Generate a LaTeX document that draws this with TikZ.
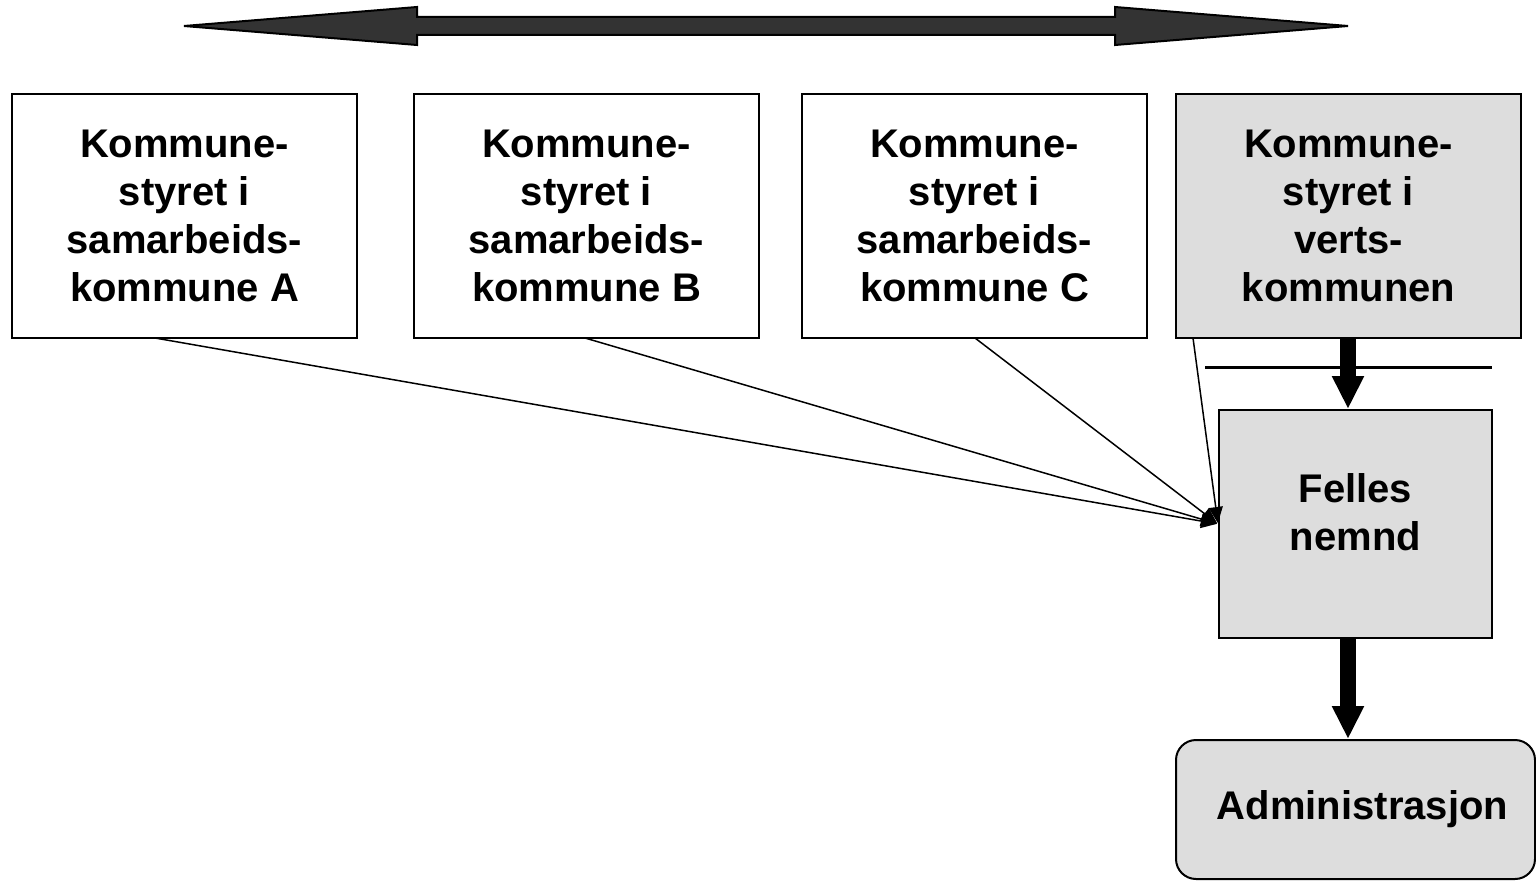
\documentclass[tikz,border=0pt]{standalone}
\usepackage{fontspec}
\setmainfont{Liberation Sans}
\usetikzlibrary{arrows.meta,positioning,calc}
\definecolor{boxgray}{HTML}{DDDDDD}
\definecolor{arrowgray}{HTML}{333333}
\begin{document}
\begin{tikzpicture}[x=0.5pt,y=-0.5pt,
  kbox/.style={draw=black,line width=1pt,minimum width=172.5pt,minimum height=122pt,inner sep=0pt,align=center,
    font=\fontsize{20pt}{24pt}\selectfont\bfseries},
  graybox/.style={fill=boxgray},
  thinarrow/.style={line width=0.75pt,-{Triangle[length=8pt,width=7pt]},shorten >=0.5pt},
  thickarrow/.style={line width=8pt,-{Triangle[length=16.5pt,width=15pt]}},
]
\useasboundingbox (0,0) rectangle (1536,882);
% top double arrow
\draw[fill=arrowgray,line width=1pt,line join=miter]
  (184,26) -- (417,7) -- (417,17) -- (1115,17) -- (1115,7) -- (1348,26)
  -- (1115,45) -- (1115,35) -- (417,35) -- (417,45) -- cycle;
% boxes
\node[kbox] (A) at (184.5,216) {Kommune-\\styret i\\samarbeids-\\kommune A};
\node[kbox] (B) at (586.5,216) {Kommune-\\styret i\\samarbeids-\\kommune B};
\node[kbox] (C) at (974.5,216) {Kommune-\\styret i\\samarbeids-\\kommune C};
\node[kbox,graybox] (V) at (1348.5,216) {Kommune-\\styret i\\verts-\\kommunen};
\node[kbox,graybox,minimum width=136.5pt,minimum height=114pt] (F) at (1355.5,524)
  {\raisebox{-1.5pt}[0pt][0pt]{\begin{tabular}{@{}c@{}}Felles\\nemnd\end{tabular}}};
\node[kbox,graybox,rounded corners=10pt,minimum width=179.5pt,minimum height=69.5pt] (Ad) at (1355.5,809.5)
  {\hspace*{7pt}\raisebox{2pt}{Administrasjon}};
% horizontal line
\coordinate (hl1) at (1205,367);
\coordinate (hl2) at (1492,367);
\draw[line width=1.5pt] (hl1) -- (hl2);
% thick arrows
\draw[thickarrow] (1348,338) coordinate (v1) -- (v1 |- F.north);
\draw[thickarrow] (v1 |- F.south) -- (v1 |- Ad.north);
% thin converging lines
\coordinate (aS) at (155,338);
\coordinate (bS) at (585,338);
\coordinate (cS) at (975,338);
\coordinate (vS) at (1193,338);
\draw[thinarrow] (aS) -- (F.west);
\draw[thinarrow] (bS) -- (F.west);
\draw[thinarrow] (cS) -- (F.west);
\draw[thinarrow] (vS) -- (F.west);
\end{tikzpicture}
\end{document}
